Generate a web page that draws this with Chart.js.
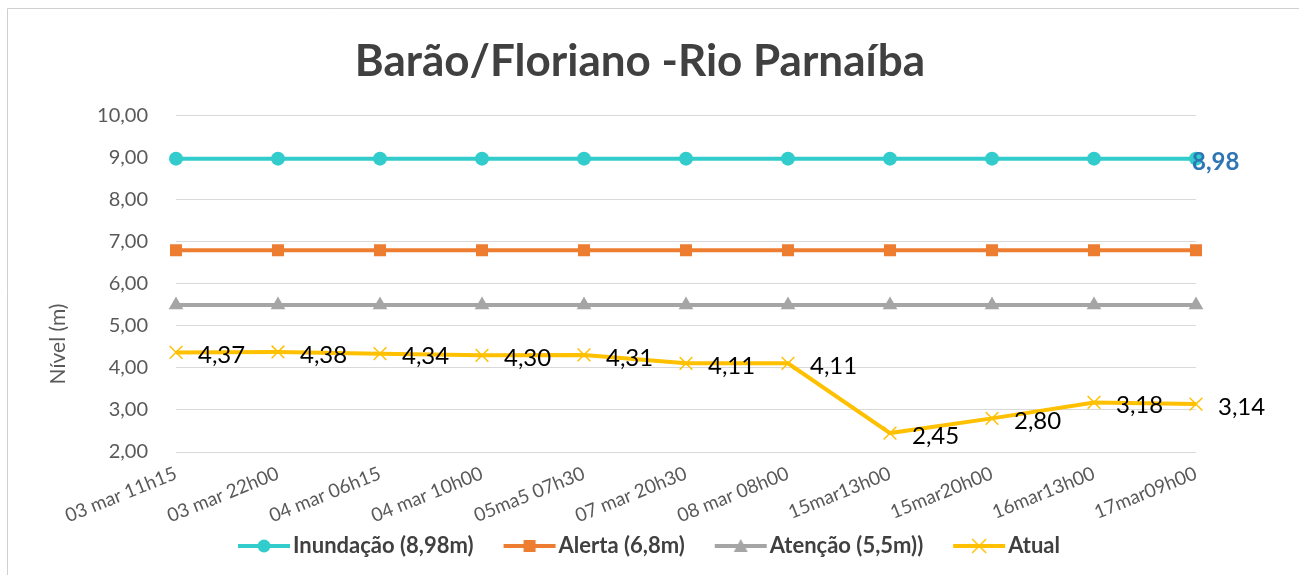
<!DOCTYPE html>
<html>
<head>
<meta charset="utf-8">
<script src="https://cdn.jsdelivr.net/npm/chart.js@4.4.1/dist/chart.umd.min.js"></script>
<style>
  html,body{margin:0;padding:0;background:#fff}
  #wrap{position:relative;width:1299px;height:575px}
</style>
</head>
<body>
<div id="wrap"><canvas id="chart" width="1299" height="575"></canvas></div>
<script>
// data
const categories = ['03 mar 11h15','03 mar 22h00','04 mar 06h15','04 mar 10h00','05ma5 07h30','07 mar 20h30','08 mar 08h00','15mar13h00','15mar20h00','16mar13h00','17mar09h00'];
const inundacao = [8.98,8.98,8.98,8.98,8.98,8.98,8.98,8.98,8.98,8.98,8.98];
const alerta = [6.8,6.8,6.8,6.8,6.8,6.8,6.8,6.8,6.8,6.8,6.8];
const atencao = [5.5,5.5,5.5,5.5,5.5,5.5,5.5,5.5,5.5,5.5,5.5];
const atual = [4.37,4.38,4.34,4.30,4.31,4.11,4.11,2.45,2.80,3.18,3.14];
const yTicks = [2,3,4,5,6,7,8,9,10];

const FONT = 'Lato, "Open Sans", sans-serif';
const fmt = v => v.toFixed(2).replace('.', ',');

// legend symbol: line with marker, shifted right so it hugs the text
function legendIcon(color, marker) {
  const c = document.createElement('canvas');
  c.width = 82; c.height = 18;
  const g = c.getContext('2d');
  const x0 = 28, x1 = 80, mx = 54;
  g.strokeStyle = color; g.fillStyle = color; g.lineWidth = 4;
  g.beginPath(); g.moveTo(x0, 9); g.lineTo(x1, 9); g.stroke();
  if (marker === 'circle') { g.beginPath(); g.arc(mx, 9, 6.5, 0, Math.PI*2); g.fill(); }
  if (marker === 'rect') { g.fillRect(mx-6, 3, 12, 12); }
  if (marker === 'triangle') { g.beginPath(); g.moveTo(mx, 2); g.lineTo(mx+7, 15); g.lineTo(mx-7, 15); g.closePath(); g.fill(); }
  if (marker === 'cross') { g.lineWidth = 1.5; g.beginPath(); g.moveTo(mx-7, 2); g.lineTo(mx+7, 16); g.moveTo(mx+7, 2); g.lineTo(mx-7, 16); g.stroke(); }
  return c;
}

const frame = {
  id: 'frame',
  beforeDraw(chart) {
    const ctx = chart.ctx;
    ctx.save();
    ctx.fillStyle = '#fff'; ctx.fillRect(0, 0, chart.width, chart.height);
    ctx.strokeStyle = '#D0D0D0'; ctx.lineWidth = 1;
    ctx.beginPath(); ctx.moveTo(7.5, chart.height); ctx.lineTo(7.5, 8.5); ctx.lineTo(chart.width, 8.5); ctx.stroke();
    ctx.restore();
  }
};

const yTitle = {
  id: 'yTitle',
  afterDraw(chart) {
    const ctx = chart.ctx, a = chart.chartArea;
    ctx.save();
    ctx.translate(a.left - 118, a.bottom - 108);
    ctx.rotate(-Math.PI/2);
    ctx.font = '21px ' + FONT; ctx.fillStyle = '#595959';
    ctx.textAlign = 'center'; ctx.textBaseline = 'middle';
    ctx.fillText('Nível (m)', 0, 0);
    ctx.restore();
  }
};

const valueLabels = {
  id: 'valueLabels',
  afterDatasetsDraw(chart) {
    const ctx = chart.ctx;
    ctx.save();
    ctx.textAlign = 'left'; ctx.textBaseline = 'middle';
    chart.getDatasetMeta(3).data.forEach((p, i) => {
      ctx.font = '24px ' + FONT; ctx.fillStyle = '#000';
      ctx.fillText(fmt(atual[i]), p.x + 22, p.y + 3);
    });
    const m = chart.getDatasetMeta(0).data;
    const last = m[m.length - 1];
    ctx.font = 'bold 24px ' + FONT; ctx.fillStyle = '#2E75B6';
    ctx.fillText(fmt(inundacao[inundacao.length - 1]), last.x - 4, last.y + 4);
    ctx.restore();
  }
};

const icons = [legendIcon('#33CCCC','circle'), legendIcon('#ED7D31','rect'), legendIcon('#A5A5A5','triangle'), legendIcon('#FFC000','cross')];

new Chart(document.getElementById('chart'), {
  type: 'line',
  data: {
    labels: categories,
    datasets: [
      { label: 'Inundação (8,98m)', data: inundacao, borderColor: '#33CCCC', backgroundColor: '#33CCCC', borderWidth: 4, pointStyle: 'circle', pointRadius: 7, pointBorderWidth: 0 },
      { label: 'Alerta (6,8m)', data: alerta, borderColor: '#ED7D31', backgroundColor: '#ED7D31', borderWidth: 4, pointStyle: 'rect', pointRadius: 8.5, pointBorderWidth: 0 },
      { label: 'Atenção (5,5m))', data: atencao, borderColor: '#A5A5A5', backgroundColor: '#A5A5A5', borderWidth: 4, pointStyle: 'triangle', pointRadius: 8.5, pointBorderWidth: 0 },
      { label: 'Atual', data: atual, borderColor: '#FFC000', backgroundColor: '#FFC000', borderWidth: 4, pointStyle: 'crossRot', pointRadius: 9, pointBorderWidth: 1.5, pointBorderColor: '#FFC000', tension: 0 }
    ]
  },
  options: {
    responsive: false,
    animation: false,
    layout: { padding: { left: 84, right: 103, top: 20, bottom: 8 } },
    plugins: {
      title: { display: true, text: 'Barão/Floriano -Rio Parnaíba', color: '#404040', font: { family: FONT, size: 44, weight: 'bold' }, padding: { top: 15, bottom: 28 } },
      legend: {
        position: 'bottom',
        labels: {
          usePointStyle: true, pointStyleWidth: 62, padding: 12, color: '#404040',
          font: { family: FONT, size: 22, weight: 'bold' },
          generateLabels(chart) {
            return Chart.defaults.plugins.legend.labels.generateLabels(chart).map((l, i) => Object.assign(l, { pointStyle: icons[i] }));
          }
        }
      },
      tooltip: { enabled: false }
    },
    scales: {
      x: {
        offset: false,
        grid: { display: false },
        border: { display: false },
        ticks: { color: '#595959', font: { family: FONT, size: 19 }, minRotation: 22, maxRotation: 22, padding: 2 },
        afterFit(s) { s.height = 71; }
      },
      y: {
        min: 2, max: 10,
        afterBuildTicks(s) { s.ticks = yTicks.map(v => ({ value: v })); },
        grid: { color: '#D9D9D9', lineWidth: 1, drawTicks: false },
        border: { display: false },
        ticks: { color: '#595959', font: { family: FONT, size: 20 }, padding: 28, callback: v => fmt(v) },
        afterFit(s) { s.width = 92; }
      }
    }
  },
  plugins: [frame, yTitle, valueLabels]
});
</script>
</body>
</html>
